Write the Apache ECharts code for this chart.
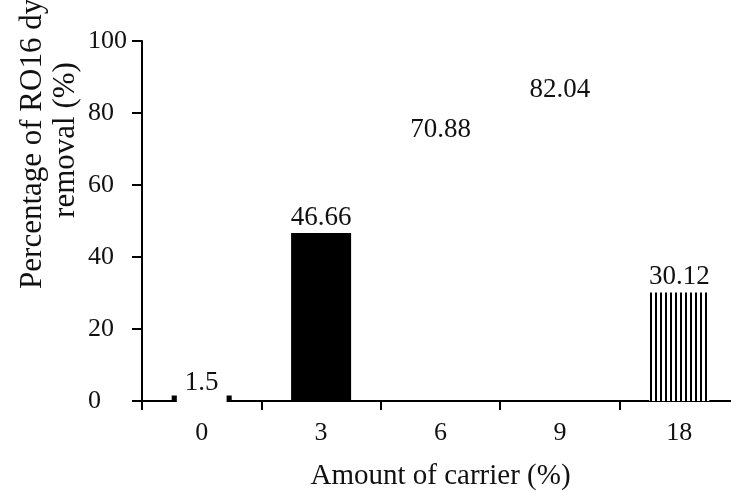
<!DOCTYPE html>
<html>
<head>
<meta charset="utf-8">
<script src="https://cdn.jsdelivr.net/npm/echarts@6/dist/echarts.min.js"></script>
<style>
html,body{margin:0;padding:0;background:#fff;}
#chart{width:731px;height:492px;}
</style>
</head>
<body>
<div id="chart"></div>
<script>
// ---- data ----
const categories = ['0', '3', '6', '9', '18'];
const removal = [1.5, 46.66, 70.88, 82.04, 30.12];
const yMin = 0, yMax = 100, yStep = 20;
const xTitle = 'Amount of carrier (%)';
const yTitleLine1 = 'Percentage of RO16 dye';
const yTitleLine2 = 'removal (%)';

// ---- styles ----
const FONT = '"Liberation Serif", "Times New Roman", serif';
function stripes() {
  const c = document.createElement('canvas');
  c.width = 5; c.height = 10;
  const g = c.getContext('2d');
  g.fillStyle = '#fff'; g.fillRect(0, 0, 5, 10);
  g.fillStyle = '#000'; g.fillRect(0, 0, 2, 10);
  return c;
}
const fills = ['#000', '#000', 'rgba(255,255,255,0)', 'rgba(255,255,255,0)', { image: stripes(), repeat: 'repeat' }];

const data = removal.map((v, i) => {
  const item = { value: v, itemStyle: { color: fills[i] } };
  if (i === 0) {
    item.label = {
      position: 'insideBottom',
      distance: -2,
      backgroundColor: '#fff',
      padding: [7, 8, 7, 8]
    };
  }
  return item;
});

const chart = echarts.init(document.getElementById('chart'));
chart.setOption({
  animation: false,
  backgroundColor: '#fff',
  grid: { left: 142, right: -8, top: 41, bottom: 91, containLabel: false, outerBoundsMode: 'none' },
  xAxis: {
    type: 'category',
    data: categories,
    name: xTitle,
    nameLocation: 'middle',
    nameGap: 61,
    nameTextStyle: { fontFamily: FONT, fontSize: 29, color: '#111' },
    axisLine: { lineStyle: { color: '#000', width: 2 } },
    axisTick: { show: true, alignWithLabel: false, length: 9, lineStyle: { color: '#000', width: 2 } },
    axisLabel: { fontFamily: FONT, fontSize: 26, color: '#111', margin: 19 },
    splitLine: { show: false }
  },
  yAxis: {
    type: 'value',
    min: yMin, max: yMax, interval: yStep,
    axisLine: { show: true, lineStyle: { color: '#000', width: 2 } },
    axisTick: { show: true, length: 10, lineStyle: { color: '#000', width: 2 } },
    axisLabel: { fontFamily: FONT, fontSize: 26, color: '#111', margin: 54, align: 'left' },
    splitLine: { show: false }
  },
  series: [{
    type: 'bar',
    data: data,
    barWidth: 60,
    label: {
      show: true,
      position: 'top',
      distance: 2,
      fontFamily: FONT,
      fontSize: 27,
      color: '#111',
      formatter: p => String(p.value)
    }
  }],
  graphic: [
    {
      type: 'text', x: 33, y: 137, rotation: Math.PI / 2,
      style: { text: yTitleLine1, font: '31px ' + FONT, fill: '#111', textAlign: 'center', textVerticalAlign: 'middle' }
    },
    {
      type: 'text', x: 66, y: 140, rotation: Math.PI / 2,
      style: { text: yTitleLine2, font: '31px ' + FONT, fill: '#111', textAlign: 'center', textVerticalAlign: 'middle' }
    }
  ]
});
</script>
</body>
</html>
